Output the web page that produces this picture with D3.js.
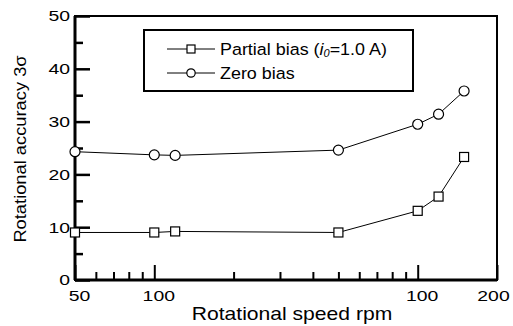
<!doctype html>
<html>
<head>
<script src="https://d3js.org/d3.v7.min.js"></script>
<style>
  body { margin: 0; background: #fff; }
  text { font-family: "Liberation Sans", Arial, sans-serif; fill: #000; }
</style>
</head>
<body>
<div id="chart"></div>
<script>
var speeds = [50, 100, 120, 500, 1000, 1200, 1500];
var zeroBias = [24.3, 23.7, 23.6, 24.6, 29.5, 31.4, 35.8];
var partialBias = [9.0, 9.0, 9.2, 9.0, 13.1, 15.8, 23.3];

// x tick labels as printed in the figure
var xMajor = [50, 100, 1000, 2000];
var xMajorLabels = ["50", "100", "100", "200"];
var xMinor = [60, 70, 80, 90, 200, 300, 400, 500, 600, 700, 800, 900];
var yMajor = [0, 10, 20, 30, 40, 50];
var yMinor = [5, 15, 25, 35, 45];

var W = 513, H = 326;
var margin = {top: 16, right: 16, bottom: 46, left: 75};
var width = W - margin.left - margin.right,
    height = H - margin.top - margin.bottom;

// the original figure's lettering is wider than normal Arial
function stretch(sel, k) {
    sel.each(function () {
        var len = this.getComputedTextLength();
        d3.select(this).attr("textLength", len * k).attr("lengthAdjust", "spacingAndGlyphs");
    });
}

var svg = d3.select("#chart").append("svg")
    .attr("width", W).attr("height", H);
var g = svg.append("g")
    .attr("transform", "translate(" + margin.left + "," + margin.top + ")");

var x = d3.scaleLog().domain([50, 2000]).range([0, width]);
var y = d3.scaleLinear().domain([0, 50]).range([height, 0]);

// ticks (inward)
var xAx = g.append("g").attr("transform", "translate(0," + height + ")");
xAx.call(d3.axisBottom(x).tickValues(xMinor).tickSize(-8).tickFormat(""));
xAx.append("g").call(d3.axisBottom(x).tickValues(xMajor).tickSize(-15).tickPadding(26)
    .tickFormat(function (d) { return xMajorLabels[xMajor.indexOf(d)]; }));
xAx.selectAll("path.domain").remove();
xAx.selectAll("line").attr("stroke", "#000").attr("stroke-width", 2);
xAx.selectAll("text").attr("font-size", 15.5).attr("dy", "-0.3em")
    .attr("dx", function (d) { return d === 2000 ? -4 : 4; })
    .call(stretch, 1.25);

var yAx = g.append("g");
yAx.call(d3.axisLeft(y).tickValues(yMinor).tickSize(-8).tickFormat(""));
yAx.append("g").call(d3.axisLeft(y).tickValues(yMajor).tickSize(-15).tickPadding(5)
    .tickFormat(d3.format("d")));
yAx.selectAll("path.domain").remove();
yAx.selectAll("line").attr("stroke", "#000").attr("stroke-width", 2.5);
yAx.selectAll("text").attr("font-size", 15.5).call(stretch, 1.25);

// frame
g.append("rect").attr("width", width).attr("height", height)
    .attr("fill", "none").attr("stroke", "#000").attr("stroke-width", 2);
g.append("line").attr("x1", 0).attr("x2", 0).attr("y1", 0).attr("y2", height)
    .attr("stroke", "#000").attr("stroke-width", 3);
g.append("line").attr("x1", 0).attr("x2", width).attr("y1", height).attr("y2", height)
    .attr("stroke", "#000").attr("stroke-width", 3);

// series
var line = d3.line().x(function (d) { return x(d[0]); }).y(function (d) { return y(d[1]); });
var zeroPts = speeds.map(function (s, i) { return [s, zeroBias[i]]; });
var partPts = speeds.map(function (s, i) { return [s, partialBias[i]]; });

g.append("path").datum(zeroPts).attr("d", line)
    .attr("fill", "none").attr("stroke", "#000").attr("stroke-width", 1);
g.append("path").datum(partPts).attr("d", line)
    .attr("fill", "none").attr("stroke", "#000").attr("stroke-width", 1);

g.selectAll(".circ").data(zeroPts).enter().append("circle")
    .attr("cx", function (d) { return x(d[0]); })
    .attr("cy", function (d) { return y(d[1]); })
    .attr("r", 5).attr("fill", "#fff").attr("stroke", "#000").attr("stroke-width", 1.2);
g.selectAll(".sq").data(partPts).enter().append("rect")
    .attr("x", function (d) { return x(d[0]) - 4.5; })
    .attr("y", function (d) { return y(d[1]) - 4.5; })
    .attr("width", 9).attr("height", 9)
    .attr("fill", "#fff").attr("stroke", "#000").attr("stroke-width", 1.2);

// legend
var lg = svg.append("g").attr("transform", "translate(144,30)");
lg.append("rect").attr("width", 269).attr("height", 61)
    .attr("fill", "#fff").attr("stroke", "#000").attr("stroke-width", 2);
lg.append("line").attr("x1", 23).attr("x2", 71).attr("y1", 19).attr("y2", 19).attr("stroke", "#000");
lg.append("rect").attr("x", 43).attr("y", 15).attr("width", 8).attr("height", 8)
    .attr("fill", "#fff").attr("stroke", "#000").attr("stroke-width", 1.2);
var t1 = lg.append("text").attr("x", 76).attr("y", 25).attr("font-size", 16.3);
t1.append("tspan").text("Partial bias (");
t1.append("tspan").attr("font-style", "italic").text("i");
t1.append("tspan").attr("font-style", "italic").attr("font-size", 10).attr("dy", 2).text("0");
t1.append("tspan").attr("dy", -2).text("=1.0 A)");
t1.call(stretch, 1.1);
lg.append("line").attr("x1", 23).attr("x2", 71).attr("y1", 43).attr("y2", 43).attr("stroke", "#000");
lg.append("circle").attr("cx", 47).attr("cy", 43).attr("r", 4.2)
    .attr("fill", "#fff").attr("stroke", "#000").attr("stroke-width", 1.2);
lg.append("text").attr("x", 76).attr("y", 49).attr("font-size", 16.3).text("Zero bias")
    .call(stretch, 1.1);

// axis titles
svg.append("text").attr("x", 292).attr("y", 320).attr("text-anchor", "middle")
    .attr("font-size", 18.5).text("Rotational speed rpm").call(stretch, 1.14);
svg.append("text").attr("transform", "translate(26,149) rotate(-90)")
    .attr("text-anchor", "middle").attr("font-size", 16.8).text("Rotational accuracy 3σ")
    .call(stretch, 1.09);
</script>
</body>
</html>
